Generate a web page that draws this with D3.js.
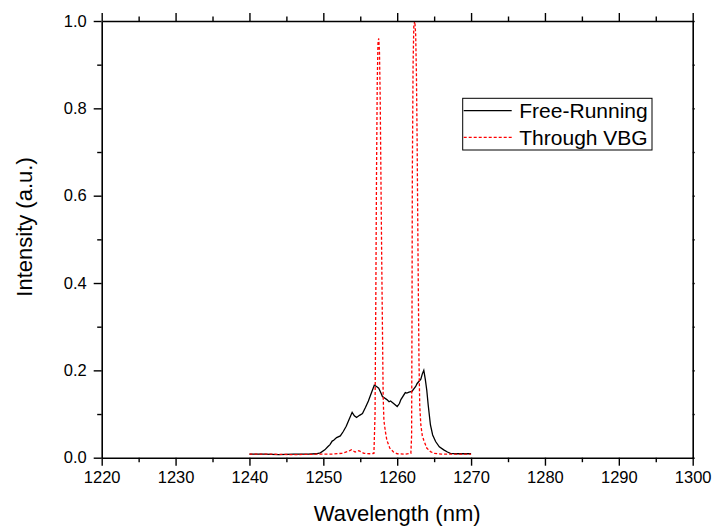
<!DOCTYPE html>
<html lang="en">
<head>
  <meta charset="UTF-8">
  <title>Spectrum: Free-Running vs Through VBG</title>
  <script src="https://d3js.org/d3.v7.min.js"></script>
  <style>
    body { margin: 0; background: #fff; }
    text { font-family: "Liberation Sans", Arial, sans-serif; fill: #000; }
  </style>
</head>
<body>
<div id="chart"></div>
<script>
// data
const freeWl = [1240, 1242, 1244, 1246, 1248, 1249, 1249.6, 1250.2, 1250.6, 1250.9, 1251.2, 1251.4, 1251.8, 1252.3, 1252.7,
  1253.1, 1253.5, 1253.9, 1254.2, 1254.5, 1254.9, 1255.3, 1255.5, 1255.7, 1256.1, 1256.5, 1256.9, 1257.2, 1257.5, 1257.8,
  1258.0, 1258.2, 1258.6, 1258.9, 1259.1, 1259.6, 1260.0, 1260.3, 1260.5, 1261.1, 1261.3, 1261.6, 1262.0, 1262.5, 1262.7,
  1262.9, 1263.2, 1263.4, 1263.6, 1263.8, 1264.0, 1264.2, 1264.5, 1264.8, 1265.2, 1265.7, 1266.3, 1266.8, 1267.2,
  1268, 1269, 1270];
const freeI = [0.008, 0.008, 0.007, 0.008, 0.008, 0.009, 0.011, 0.018, 0.025, 0.03, 0.038, 0.04, 0.046, 0.05, 0.06,
  0.072, 0.088, 0.104, 0.096, 0.092, 0.097, 0.101, 0.108, 0.115, 0.13, 0.148, 0.166, 0.163, 0.159, 0.148,
  0.14, 0.138, 0.133, 0.128, 0.13, 0.123, 0.117, 0.124, 0.133, 0.149, 0.148, 0.15, 0.152, 0.163, 0.17,
  0.174, 0.18, 0.192, 0.2, 0.18, 0.155, 0.12, 0.075, 0.052, 0.037, 0.025, 0.018, 0.013, 0.01,
  0.009, 0.009, 0.009];

const vbgWl = [1240, 1243, 1246, 1249, 1251, 1252.5, 1253.3, 1253.8, 1254.3, 1254.8, 1255.5, 1256.3, 1256.85,
  1257.0, 1257.1, 1257.2, 1257.3, 1257.4, 1257.5, 1257.6, 1257.7, 1257.8, 1257.9, 1258.0, 1258.1, 1258.2,
  1258.4, 1258.6, 1259.0, 1259.5, 1260.0, 1261.0, 1261.85, 1261.95, 1262.0, 1262.05, 1262.15, 1262.25, 1262.38,
  1262.5, 1262.6, 1262.7, 1262.8, 1262.88, 1262.95, 1263.05, 1263.2, 1263.4, 1263.6, 1264.0, 1264.5,
  1265.0, 1266, 1268, 1270];
const vbgI = [0.008, 0.008, 0.007, 0.008, 0.008, 0.01, 0.014, 0.018, 0.013, 0.016, 0.01, 0.009, 0.01,
  0.1, 0.35, 0.65, 0.86, 0.95, 0.96, 0.93, 0.82, 0.64, 0.46, 0.3, 0.14, 0.085,
  0.06, 0.04, 0.022, 0.013, 0.009, 0.008, 0.01, 0.05, 0.3, 0.65, 0.9, 0.99, 1.0,
  0.97, 0.88, 0.72, 0.5, 0.35, 0.22, 0.12, 0.075, 0.05, 0.04, 0.022, 0.014,
  0.01, 0.008, 0.008, 0.008];

const xTicks = [1220, 1230, 1240, 1250, 1260, 1270, 1280, 1290, 1300];
const yTicks = [0.0, 0.2, 0.4, 0.6, 0.8, 1.0];
const seriesNames = ["Free-Running", "Through VBG"];

const W = 712, H = 526;
const margin = {top: 21, right: 19.3, bottom: 68.3, left: 101.7};
const gw = W - margin.left - margin.right;
const gh = H - margin.top - margin.bottom;

const svg = d3.select("#chart").append("svg")
  .attr("width", W)
  .attr("height", H);

svg.append("rect").attr("width", W).attr("height", H).attr("fill", "#fff");

const graph = svg.append("g")
  .attr("transform", `translate(${margin.left},${margin.top})`);

const x = d3.scaleLinear().domain([1220, 1300]).range([0, gw]);
const y = d3.scaleLinear().domain([0, 1]).range([gh, 0]);

const minorX = d3.range(1225, 1300, 10);
const minorY = d3.range(0.1, 1.0, 0.2);

// clip so the tall peak stays inside the frame
graph.append("clipPath").attr("id", "clip")
  .append("rect").attr("width", gw).attr("height", gh);

const line = d3.line().x(d => x(d[0])).y(d => y(d[1]));

const plot = graph.append("g").attr("clip-path", "url(#clip)");

plot.append("path")
  .datum(freeWl.map((w, i) => [w, freeI[i]]))
  .attr("d", line)
  .attr("fill", "none")
  .attr("stroke", "#000")
  .attr("stroke-width", 1.3);

plot.append("path")
  .datum(vbgWl.map((w, i) => [w, vbgI[i]]))
  .attr("d", line)
  .attr("fill", "none")
  .attr("stroke", "#ff0000")
  .attr("stroke-width", 1.3)
  .attr("stroke-dasharray", "3,2");

// axes
function styleAxis(g) {
  g.select(".domain").attr("stroke-width", 1.6);
  g.selectAll(".tick line").attr("stroke-width", 1.4);
  g.selectAll("text").style("font-size", "16.5px");
}

const xAxisGroup = graph.append("g").attr("transform", `translate(0,${gh})`);
xAxisGroup.call(d3.axisBottom(x).tickValues(xTicks).tickFormat(d3.format("d")).tickSize(8).tickSizeOuter(0).tickPadding(6));
styleAxis(xAxisGroup);
graph.append("g").attr("transform", `translate(0,${gh})`)
  .call(d3.axisBottom(x).tickValues(minorX).tickFormat("").tickSize(4.5).tickSizeOuter(0))
  .call(g => g.select(".domain").remove())
  .selectAll("line").attr("stroke-width", 1.4);

const yAxisGroup = graph.append("g");
yAxisGroup.call(d3.axisLeft(y).tickValues(yTicks).tickFormat(d3.format(".1f")).tickSize(8).tickSizeOuter(0).tickPadding(7));
styleAxis(yAxisGroup);
graph.append("g")
  .call(d3.axisLeft(y).tickValues(minorY).tickFormat("").tickSize(4.5).tickSizeOuter(0))
  .call(g => g.select(".domain").remove())
  .selectAll("line").attr("stroke-width", 1.4);

const topAxis = graph.append("g");
topAxis.call(d3.axisTop(x).tickValues(xTicks).tickFormat("").tickSize(8).tickSizeOuter(0));
styleAxis(topAxis);
graph.append("g")
  .call(d3.axisTop(x).tickValues(minorX).tickFormat("").tickSize(4.5).tickSizeOuter(0))
  .call(g => g.select(".domain").remove())
  .selectAll("line").attr("stroke-width", 1.4);

const rightAxis = graph.append("g").attr("transform", `translate(${gw},0)`);
rightAxis.call(d3.axisRight(y).tickValues(yTicks.concat(minorY)).tickFormat("").tickSize(2).tickSizeOuter(0));
styleAxis(rightAxis);

// axis titles
svg.append("text")
  .attr("x", margin.left + gw / 2)
  .attr("y", 521)
  .attr("text-anchor", "middle")
  .style("font-size", "22px")
  .text("Wavelength (nm)");

svg.append("text")
  .attr("transform", `translate(32,227) rotate(-90)`)
  .attr("text-anchor", "middle")
  .style("font-size", "22px")
  .text("Intensity (a.u.)");

// legend
const legend = svg.append("g").attr("transform", "translate(462.7,98.3)");
legend.append("rect")
  .attr("width", 189.3).attr("height", 51.7)
  .attr("fill", "#fff").attr("stroke", "#000").attr("stroke-width", 1);

seriesNames.forEach((name, i) => {
  const ly = 12.4 + i * 26.6;
  legend.append("line")
    .attr("x1", 1).attr("x2", 49).attr("y1", ly).attr("y2", ly)
    .attr("stroke", i === 0 ? "#000" : "#ff0000")
    .attr("stroke-width", 1.2)
    .attr("stroke-dasharray", i === 0 ? null : "3,2");
  legend.append("text")
    .attr("x", 56.6).attr("y", ly + 7.5)
    .style("font-size", "21px")
    .text(name);
});
</script>
</body>
</html>
